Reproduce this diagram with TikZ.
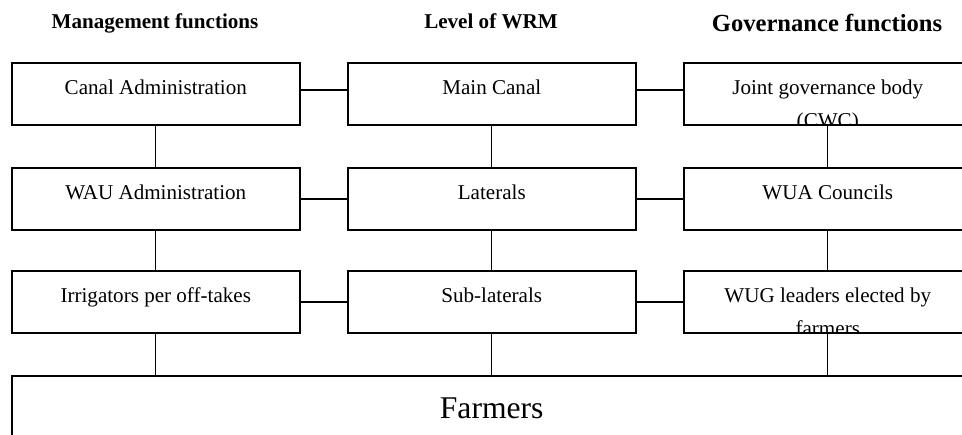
\documentclass[tikz,border=0pt]{standalone}
\usepackage{fontspec}
\setmainfont{Liberation Serif}
\usepackage{tikz}
\usetikzlibrary{calc}

\begin{document}
\begin{tikzpicture}[
  x=0.02cm, y=-0.02cm,
  head/.style={font=\bfseries\fontsize{12}{14}\selectfont, anchor=base, inner sep=0pt},
  inner/.style={draw=none, anchor=north, align=center, inner sep=0pt, minimum width=0pt, minimum height=0pt},
  box/.style={draw, line width=0.9pt, anchor=north west, inner sep=0pt,
    minimum width=5.76cm, minimum height=1.25cm,
    path picture={\node[inner, font=\fontsize{12}{18.5}\selectfont]
      at ([yshift=-0.33cm]path picture bounding box.north) {#1};}},
  farmbox/.style={draw, line width=0.9pt, anchor=north west, inner sep=0pt,
    minimum width=19.2cm, minimum height=2cm,
    path picture={\node[inner, font=\fontsize{18}{22}\selectfont]
      at ([yshift=-0.42cm]path picture bounding box.north) {#1};}},
  link/.style={line width=0.6pt},
  hlink/.style={line width=0.9pt}
]
\useasboundingbox (0,0) rectangle (962,435);
\clip (0,0) rectangle (962,435);

% column headings
\node[head] (hmgmt) at (155,29) {Management functions};
\node[head] (hwrm) at (491,29) {Level of WRM};
\node[head, font=\bfseries\fontsize{14}{16}\selectfont] (hgov) at (827,32) {Governance functions};

% levels
\node[box={Canal Administration}] (canal) at (11,62) {};
\node[box={Main Canal}] (main) at (347,62) {};
\node[box={Joint governance body\\(CWC)}] (cwc) at (683,62) {};

\node[box={WAU Administration}] (wau) at (11,167) {};
\node[box={Laterals}] (lat) at (347,167) {};
\node[box={WUA Councils}] (wua) at (683,167) {};

\node[box={Irrigators per off-takes}] (irrig) at (11,270) {};
\node[box={Sub-laterals}] (sublat) at (347,270) {};
\node[box={WUG leaders elected by\\farmers}] (wug) at (683,270) {};

\node[farmbox={Farmers}] (farm) at (11,375) {};

% links across
\draw[hlink] ([yshift=0.08cm]canal.east) -- ([yshift=0.08cm]main.west);
\draw[hlink] ([yshift=0.08cm]main.east) -- ([yshift=0.08cm]cwc.west);
\draw[hlink] (wau.east) -- (lat.west);
\draw[hlink] (lat.east) -- (wua.west);
\draw[hlink] (irrig.east) -- (sublat.west);
\draw[hlink] (sublat.east) -- (wug.west);

% links down
\draw[link] (canal.south) -- (wau.north);
\draw[link] (main.south) -- (lat.north);
\draw[link] (cwc.south) -- (wua.north);
\draw[link] (wau.south) -- (irrig.north);
\draw[link] (lat.south) -- (sublat.north);
\draw[link] (wua.south) -- (wug.north);
\draw[link] (irrig.south) -- (irrig.south |- farm.north);
\draw[link] (sublat.south) -- (sublat.south |- farm.north);
\draw[link] (wug.south) -- (wug.south |- farm.north);
\end{tikzpicture}
\end{document}
